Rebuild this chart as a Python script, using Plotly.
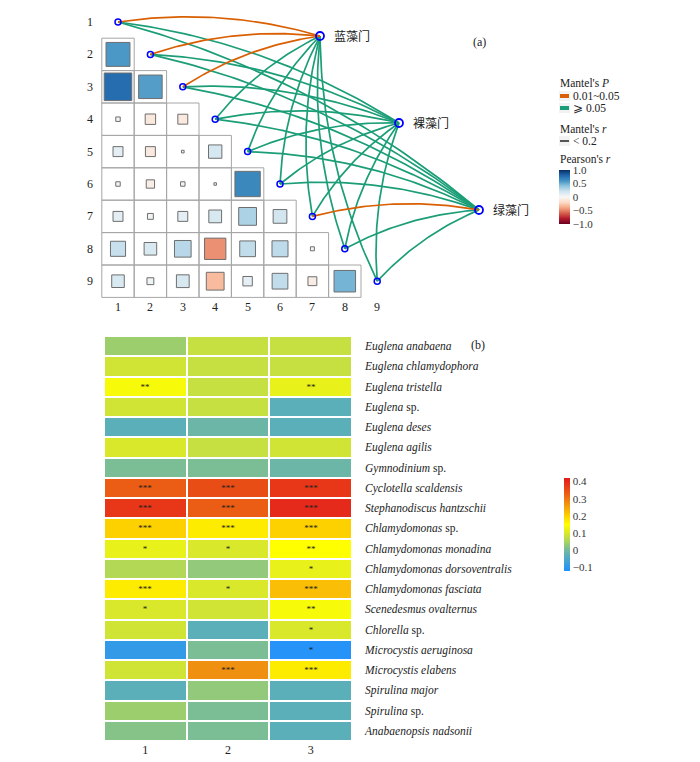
import numpy as np
import plotly.graph_objects as go

# ---------------- data ----------------
env_labels = ["1", "2", "3", "4", "5", "6", "7", "8", "9"]
# lower-triangle Pearson r, row i has columns 1..i-1
pearson_r2 = [0.58]
pearson_r3 = [0.77, 0.56]
pearson_r4 = [0.02, -0.11, -0.10]
pearson_r5 = [0.10, -0.10, 0.007, 0.18]
pearson_r6 = [0.02, -0.07, 0.02, 0.005, 0.65]
pearson_r7 = [0.10, 0.035, 0.10, 0.165, 0.32, 0.19]
pearson_r8 = [0.23, 0.16, 0.28, -0.46, 0.25, 0.26, 0.016]
pearson_r9 = [0.16, 0.048, 0.165, -0.32, 0.09, 0.25, -0.08, 0.47]
pearson_rows = [[], pearson_r2, pearson_r3, pearson_r4, pearson_r5,
                pearson_r6, pearson_r7, pearson_r8, pearson_r9]

groups = ["蓝藻门", "裸藻门", "绿藻门"]
# Mantel's P category per env: 1 = 0.01~0.05, 0 = >=0.05
mantel_p_blue = [1, 1, 1, 0, 0, 0, 0, 0, 0]
mantel_p_eug = [0, 0, 0, 0, 0, 0, 0, 0, 0]
mantel_p_green = [0, 0, 0, 0, 0, 0, 1, 0, 0]
mantel_p = [mantel_p_blue, mantel_p_eug, mantel_p_green]

species = ["<i>Euglena anabaena</i>", "<i>Euglena chlamydophora</i>", "<i>Euglena tristella</i>",
           "<i>Euglena</i> sp.", "<i>Euglena deses</i>", "<i>Euglena agilis</i>",
           "<i>Gymnodinium</i> sp.", "<i>Cyclotella scaldensis</i>", "<i>Stephanodiscus hantzschii</i>",
           "<i>Chlamydomonas</i> sp.", "<i>Chlamydomonas monadina</i>",
           "<i>Chlamydomonas dorsoventralis</i>", "<i>Chlamydomonas fasciata</i>",
           "<i>Scenedesmus ovalternus</i>", "<i>Chlorella</i> sp.", "<i>Microcystis aeruginosa</i>",
           "<i>Microcystis elabens</i>", "<i>Spirulina major</i>", "<i>Spirulina</i> sp.",
           "<i>Anabaenopsis nadsonii</i>"]
heat_cols = [1, 2, 3]
heat_vals = [
    [0.04, 0.08, 0.08],
    [0.09, 0.08, 0.08],
    [0.14, 0.08, 0.12],
    [0.09, 0.08, -0.03],
    [-0.03, -0.01, -0.03],
    [0.10, 0.08, 0.09],
    [0.01, 0.01, -0.01],
    [0.33, 0.35, 0.38],
    [0.38, 0.33, 0.40],
    [0.20, 0.17, 0.20],
    [0.12, 0.10, 0.15],
    [0.06, 0.03, 0.12],
    [0.17, 0.10, 0.22],
    [0.10, 0.09, 0.14],
    [0.09, -0.03, 0.10],
    [-0.09, 0.01, -0.11],
    [0.09, 0.27, 0.17],
    [-0.03, 0.03, -0.03],
    [0.04, 0.01, -0.03],
    [0.02, 0.01, -0.03],
]
heat_stars = [
    ["", "", ""], ["", "", ""], ["**", "", "**"], ["", "", ""], ["", "", ""],
    ["", "", ""], ["", "", ""], ["***", "***", "***"], ["***", "***", "***"],
    ["***", "***", "***"], ["*", "*", "**"], ["", "", "*"], ["***", "*", "***"],
    ["*", "", "**"], ["", "", "*"], ["", "", "*"], ["", "***", "***"],
    ["", "", ""], ["", "", ""], ["", "", ""],
]

# ---------------- styling ----------------
W, H = 700, 762
SERIF = "Liberation Serif, Times New Roman, serif"
CJK = "Liberation Serif, Noto Sans CJK SC"
CELL = 32.4  # px per unit in top panel
ORANGE = "#D95F02"
GREEN = "#1B9E77"
rdbu = [[0.0, "#67001F"], [0.1, "#B2182B"], [0.2, "#D6604D"], [0.3, "#F4A582"],
        [0.4, "#FDDBC7"], [0.5, "#F7F7F7"], [0.6, "#D1E5F0"], [0.7, "#92C5DE"],
        [0.8, "#4393C3"], [0.9, "#2166AC"], [1.0, "#053061"]]
zmin, zmax = -0.12, 0.42
def t(v):
    return (v - zmin) / (zmax - zmin)
heat_scale = [[0.0, "#1E90FF"], [t(-0.03), "#5AAFB8"], [t(0.01), "#7BBD95"],
              [t(0.05), "#A8D460"], [t(0.10), "#D9E82A"], [t(0.15), "#FFFF00"],
              [t(0.20), "#FDD000"], [t(0.27), "#F09010"], [t(0.33), "#EB5C14"],
              [1.0, "#E31A1C"]]

def px2x(px):
    return px / W
def py2y(py):
    return 1 - py / H

# top axis: data units with equal px scale, y reversed
def dx(px):
    return 1 + (px - 118) / CELL
def dy(py):
    return 1 + (py - 22) / CELL
TOP_PY = 330
top_xrange = [dx(0), dx(W)]
top_yrange = [dy(TOP_PY), dy(0)]
group_pos = [(dx(320), dy(36)), (dx(399), dy(123)), (dx(479), dy(210))]

fig = go.Figure()

# grid cells
shapes = []
for i in range(2, 10):
    for j in range(1, i):
        shapes.append(dict(type="rect", xref="x", yref="y", x0=j - 0.5, x1=j + 0.5,
                           y0=i - 0.5, y1=i + 0.5, line=dict(color="#A6A6A6", width=1),
                           fillcolor="rgba(0,0,0,0)", layer="below"))

# squares
sx, sy, sc, ss = [], [], [], []
for i, row in enumerate(pearson_rows, start=1):
    for j, r in enumerate(row, start=1):
        sx.append(j); sy.append(i); sc.append(r)
        ss.append(max(np.sqrt(abs(r)) * CELL * 0.97, 2.5))
fig.add_trace(go.Scatter(
    x=sx, y=sy, mode="markers", xaxis="x", yaxis="y", hoverinfo="skip", showlegend=False,
    marker=dict(symbol="square", size=ss, color=sc, cmin=-1, cmax=1, colorscale=rdbu,
                opacity=1, line=dict(color="#6E6E6E", width=1),
                colorbar=dict(x=px2x(559), xanchor="left", xpad=0, ypad=0,
                              y=py2y(197), yanchor="middle", len=54, lenmode="pixels",
                              thickness=11, outlinewidth=0, ticks="",
                              tickvals=[1, 0.5, 0, -0.5, -1],
                              ticktext=["1.0", "0.5", "0", "−0.5", "−1.0"],
                              tickfont=dict(family=SERIF, size=11, color="#333")),
                showscale=True)))

# curves
def curve(p0, p1, k=0.11, n=50):
    (x0, y0), (x1, y1) = p0, p1
    ddx, ddy = x1 - x0, y1 - y0
    mx, my = (x0 + x1) / 2, (y0 + y1) / 2
    cx, cy = mx + k * ddy, my - k * ddx
    tt = np.linspace(0, 1, n)
    xs = (1 - tt) ** 2 * x0 + 2 * (1 - tt) * tt * cx + tt ** 2 * x1
    ys = (1 - tt) ** 2 * y0 + 2 * (1 - tt) * tt * cy + tt ** 2 * y1
    return list(xs), list(ys)

for cat, col in [(0, GREEN), (1, ORANGE)]:
    cxs, cys = [], []
    for g, gp in enumerate(group_pos):
        for e in range(9):
            if mantel_p[g][e] == cat:
                xs, ys = curve((e + 1, e + 1), gp)
                cxs += xs + [None]; cys += ys + [None]
    fig.add_trace(go.Scatter(x=cxs, y=cys, mode="lines", xaxis="x", yaxis="y",
                             line=dict(color=col, width=1.7), hoverinfo="skip",
                             showlegend=False))

# nodes
fig.add_trace(go.Scatter(x=list(range(1, 10)), y=list(range(1, 10)), mode="markers",
                         xaxis="x", yaxis="y", hoverinfo="skip", showlegend=False,
                         marker=dict(symbol="circle-open", size=6, color="#0000FF",
                                     line=dict(width=1.5, color="#0000FF"))))
fig.add_trace(go.Scatter(x=[p[0] for p in group_pos], y=[p[1] for p in group_pos],
                         mode="markers", xaxis="x", yaxis="y", hoverinfo="skip",
                         showlegend=False,
                         marker=dict(symbol="circle-open", size=8, color="#0000FF",
                                     line=dict(width=1.8, color="#0000FF"))))

annotations = []
for k_, lab in enumerate(env_labels, start=1):
    annotations.append(dict(x=dx(90), y=k_, xref="x", yref="y", text=lab, showarrow=False,
                            font=dict(family=SERIF, size=12, color="#222")))
    annotations.append(dict(x=k_, y=dy(307), xref="x", yref="y", text=lab, showarrow=False,
                            font=dict(family=SERIF, size=12, color="#222")))
for g, gp in zip(groups, group_pos):
    annotations.append(dict(x=gp[0] + 12 / CELL, y=gp[1], xref="x", yref="y", text=g,
                            showarrow=False, xanchor="left",
                            font=dict(family=CJK, size=12, color="#222")))

annotations.append(dict(x=px2x(488), y=py2y(33), xref="paper", yref="paper", text="(a)",
                        showarrow=False, font=dict(family=SERIF, size=12, color="#222")))
annotations.append(dict(x=px2x(487), y=py2y(345), xref="paper", yref="paper", text="(b)",
                        showarrow=False, font=dict(family=SERIF, size=12, color="#222")))

# legend (keys)
LX = 558
def leg_text(px, py, text):
    annotations.append(dict(x=px2x(px), y=py2y(py), xref="paper", yref="paper", text=text,
                            showarrow=False, xanchor="left", yanchor="middle",
                            font=dict(family=SERIF, size=11.5, color="#222")))
leg_text(LX, 83, "Mantel's <i>P</i>")
leg_text(571, 96, "0.01~0.05")
leg_text(571, 108, "⩾ 0.05")
leg_text(LX, 129, "Mantel's <i>r</i>")
leg_text(571, 141, "&lt; 0.2")
leg_text(LX, 159, "Pearson's <i>r</i>")
for py, col in [(96, ORANGE), (108, GREEN)]:
    shapes.append(dict(type="rect", xref="paper", yref="paper", x0=px2x(559), x1=px2x(570),
                       y0=py2y(py + 5), y1=py2y(py - 5), fillcolor="#F2F2F2",
                       line=dict(width=0), layer="below"))
    shapes.append(dict(type="rect", xref="paper", yref="paper", x0=px2x(560), x1=px2x(569),
                       y0=py2y(py + 2), y1=py2y(py - 2), fillcolor=col, line=dict(width=0)))
shapes.append(dict(type="rect", xref="paper", yref="paper", x0=px2x(559), x1=px2x(570),
                   y0=py2y(146), y1=py2y(136), fillcolor="#F2F2F2", line=dict(width=0),
                   layer="below"))
shapes.append(dict(type="line", xref="paper", yref="paper", x0=px2x(560), x1=px2x(569),
                   y0=py2y(141), y1=py2y(141), line=dict(color="#555", width=2)))

# ---------------- bottom heatmap ----------------
fig.add_trace(go.Heatmap(
    z=heat_vals, x=heat_cols, y=species, xaxis="x2", yaxis="y2",
    text=heat_stars, texttemplate="%{text}", textfont=dict(family=SERIF, size=9, color="#222"),
    colorscale=heat_scale, zmin=zmin, zmax=zmax, xgap=2, ygap=2, hoverinfo="skip",
    colorbar=dict(x=px2x(564), xanchor="left", xpad=0, ypad=0, y=py2y(524.5),
                  yanchor="middle", len=93, lenmode="pixels", thickness=6, outlinewidth=0,
                  ticks="", tickvals=[0.4, 0.3, 0.2, 0.1, 0, -0.1],
                  ticktext=["0.4", "0.3", "0.2", "0.1", "0", "−0.1"],
                  tickfont=dict(family=SERIF, size=11, color="#333"))))

fig.update_layout(
    width=W, height=H, margin=dict(l=0, r=0, t=0, b=0, pad=0),
    paper_bgcolor="white", plot_bgcolor="white",
    xaxis=dict(domain=[0, 1], range=top_xrange, visible=False, fixedrange=True),
    yaxis=dict(domain=[1 - TOP_PY / H, 1], range=top_yrange, visible=False, fixedrange=True),
    xaxis2=dict(domain=[104 / W, 352 / W], anchor="y2", tickvals=heat_cols,
                ticktext=[str(c) for c in heat_cols], showgrid=False, zeroline=False,
                ticks="", tickfont=dict(family=SERIF, size=12, color="#222"), showline=False),
    yaxis2=dict(domain=[1 - 741 / H, 1 - 336 / H], anchor="x2", side="right",
                autorange="reversed", showgrid=False, zeroline=False, ticks="",
                ticklabelstandoff=12,
                tickfont=dict(family=SERIF, size=11.5, color="#222"), showline=False),
    shapes=shapes, annotations=annotations, showlegend=False,
)

fig.write_html("out.html", config={"displayModeBar": False},
               post_script="document.body.style.margin='0';document.body.style.overflow='hidden';")
